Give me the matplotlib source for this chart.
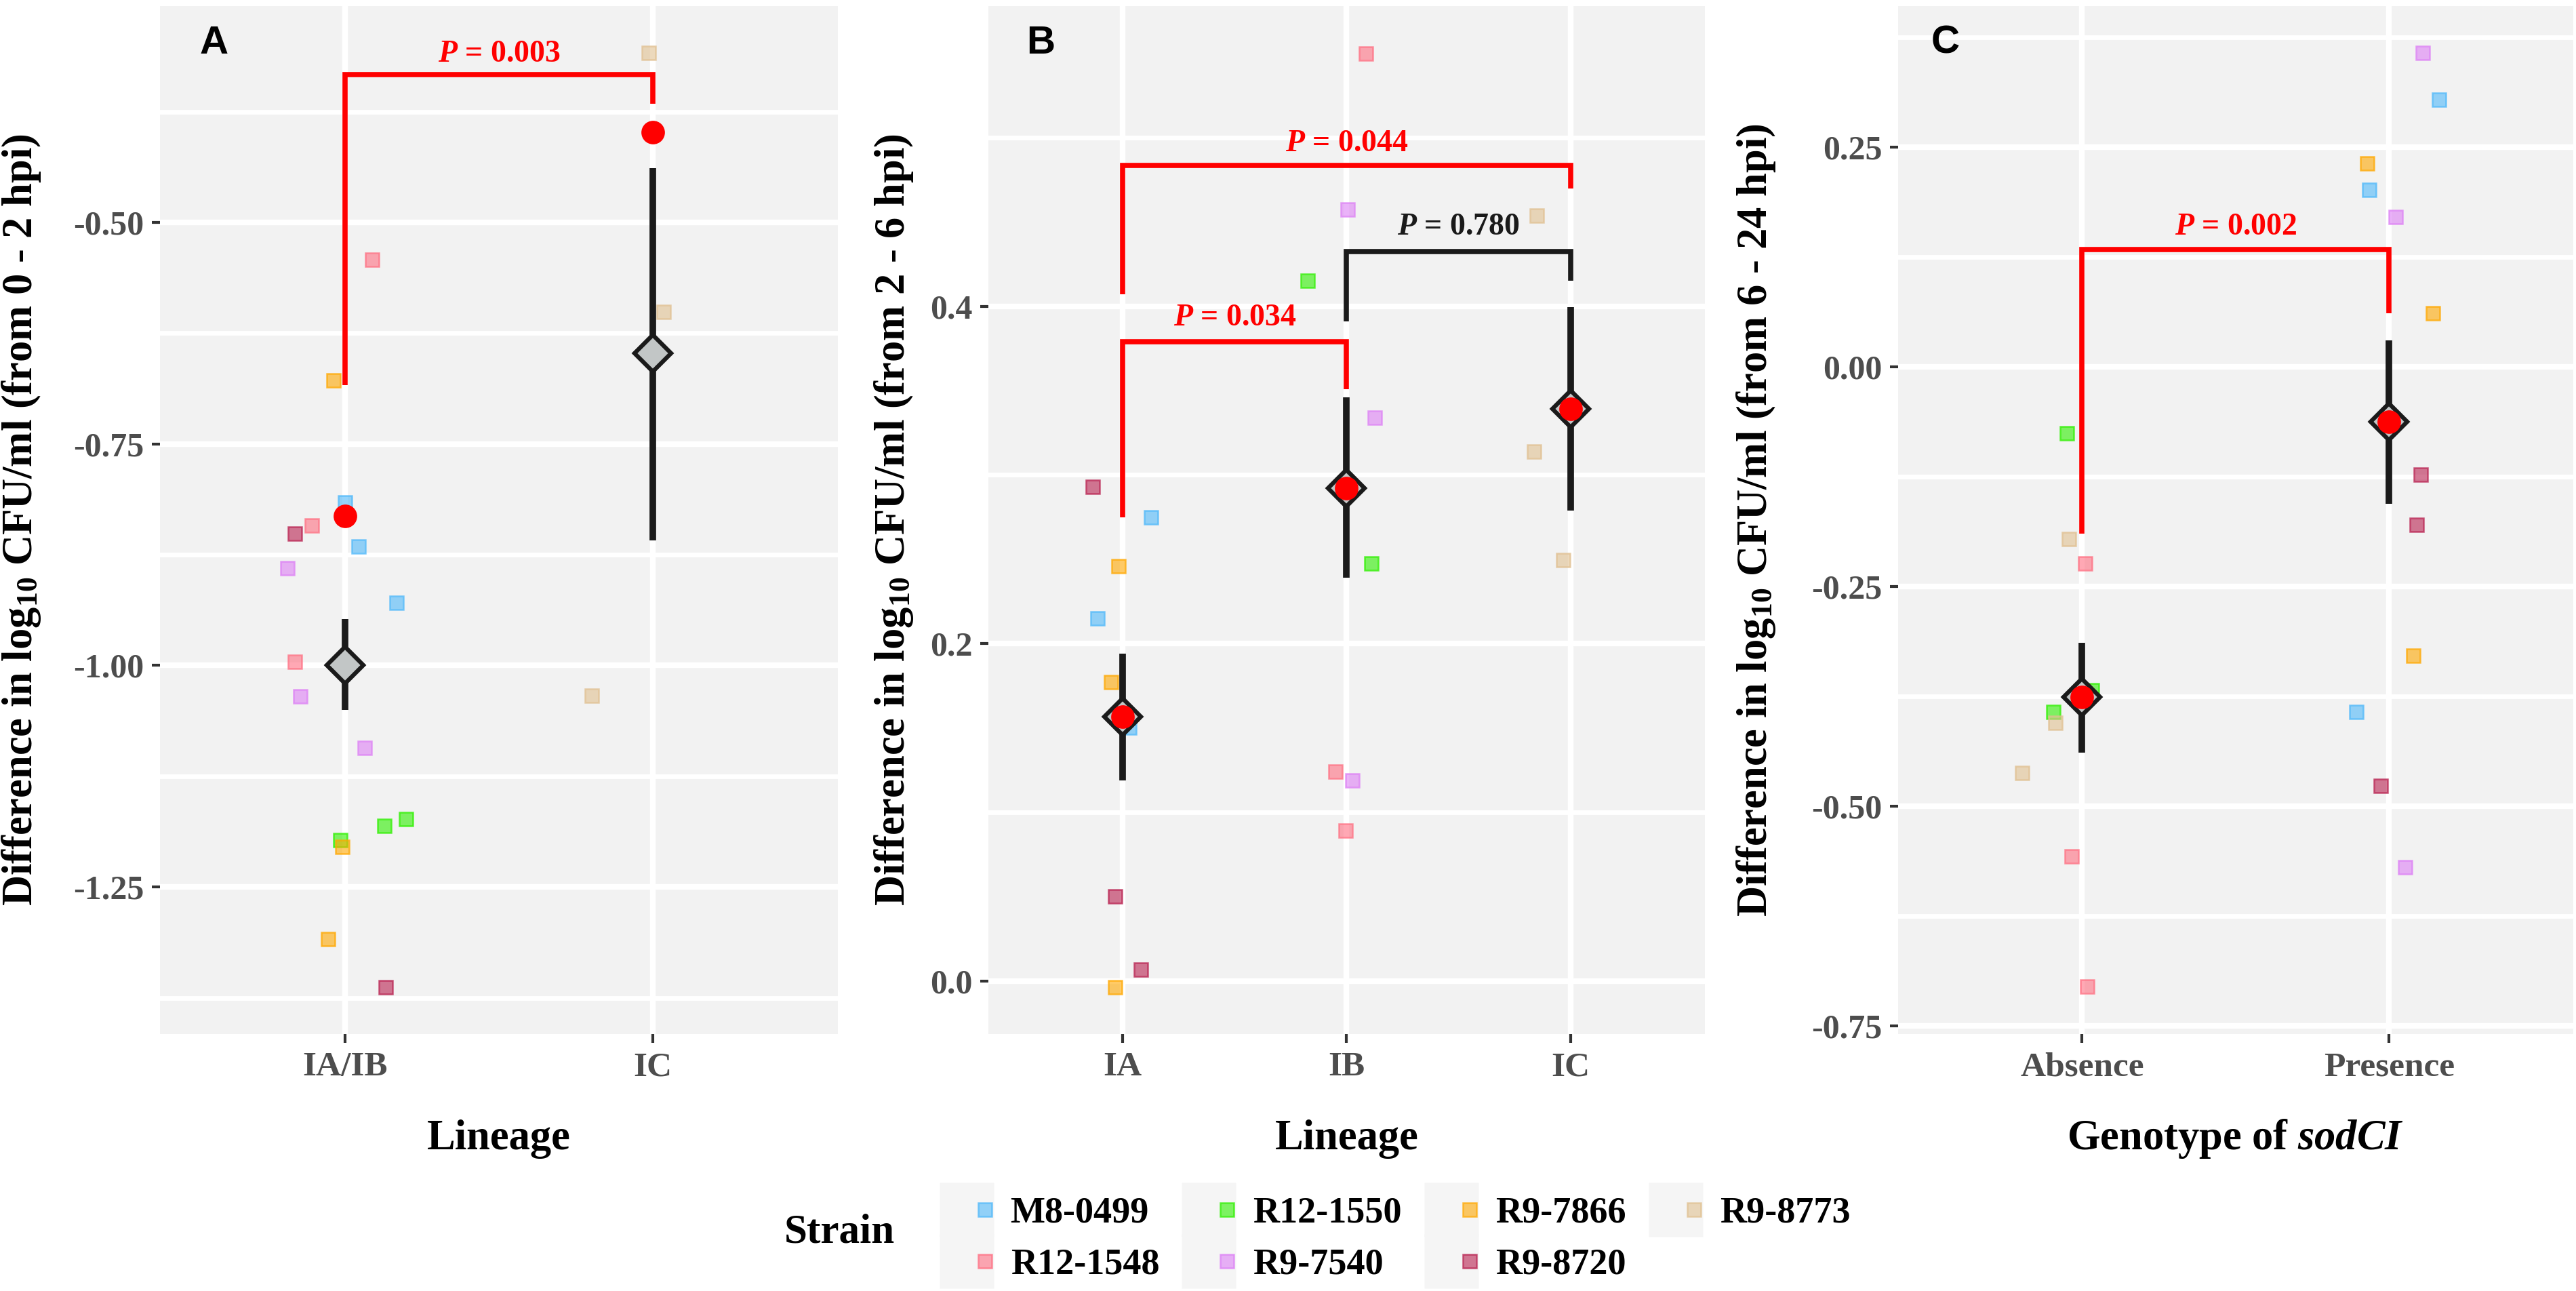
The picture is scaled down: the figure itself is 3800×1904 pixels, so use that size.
import matplotlib
matplotlib.use("Agg")
import matplotlib.pyplot as plt
from matplotlib.lines import Line2D
from matplotlib.legend_handler import HandlerTuple

plt.rcParams["font.family"] = ["Liberation Serif", "DejaVu Serif"]
plt.rcParams["font.weight"] = "bold"
plt.rcParams["axes.labelweight"] = "bold"
plt.rcParams["mathtext.fontset"] = "custom"
plt.rcParams["mathtext.rm"] = "Liberation Serif:bold"
plt.rcParams["mathtext.bf"] = "Liberation Serif:bold"
plt.rcParams["mathtext.it"] = "Liberation Serif:italic:bold"

# strains and their colours
strains = ["M8-0499", "R12-1548", "R12-1550", "R9-7540", "R9-7866", "R9-8720", "R9-8773"]
strain_colors = ["#4FB8FA", "#FF6F82", "#2EF000", "#DD80F5", "#FFA800", "#B8204F", "#E0C090"]

# ---- panel A: 0 - 2 hpi, lineage IA/IB vs IC
a_groups = ["IA/IB", "IC"]
a_strain = ["M8-0499"] * 3 + ["R12-1548"] * 3 + ["R12-1550"] * 3 + ["R9-7540"] * 3 \
    + ["R9-7866"] * 3 + ["R9-8720"] * 2 + ["R9-8773"] * 3
a_group = [0] * 17 + [1] * 3
a_value = [-0.816, -0.866, -0.929,
           -0.542, -0.842, -0.996,
           -1.173, -1.181, -1.197,
           -0.890, -1.035, -1.093,
           -0.678, -1.205, -1.309,
           -0.851, -1.363,
           -0.309, -0.601, -1.034]
a_jitter = [0.000, 0.044, 0.167,
            0.088, -0.107, -0.163,
            0.198, 0.128, -0.014,
            -0.186, -0.144, 0.065,
            -0.037, -0.009, -0.054,
            -0.163, 0.133,
            -0.014, 0.035, -0.198]
a_mean = [-1.000, -0.648]
a_low = [-1.050, -0.859]
a_high = [-0.948, -0.439]
a_dot = [-0.831, -0.398]
a_br_left = [0]
a_br_right = [1]
a_br_top = [-0.333]
a_br_left_end = [-0.684]
a_br_right_end = [-0.366]
a_br_text_y = [-0.310]
a_br_label = ["0.003"]
a_br_color = ["#FF0000"]
a_ylim = (-1.416, -0.256)
a_major = [-1.25, -1.00, -0.75, -0.50]
a_major_labels = ["-1.25", "-1.00", "-0.75", "-0.50"]
a_minor = [-1.375, -1.125, -0.875, -0.625, -0.375]

# ---- panel B: 2 - 6 hpi, lineage IA, IB, IC
b_groups = ["IA", "IB", "IC"]
b_strain = ["M8-0499"] * 3 + ["R9-7866"] * 3 + ["R9-8720"] * 3 \
    + ["R12-1548"] * 3 + ["R9-7540"] * 3 + ["R12-1550"] * 2 + ["R9-8773"] * 3
b_group = [0] * 9 + [1] * 8 + [2] * 3
b_value = [0.275, 0.215, 0.150,
           0.246, 0.177, -0.004,
           0.293, 0.050, 0.0065,
           0.550, 0.124, 0.089,
           0.4575, 0.334, 0.119,
           0.415, 0.2475,
           0.454, 0.314, 0.2497]
b_jitter = [0.126, -0.114, 0.029,
            -0.019, -0.053, -0.034,
            -0.133, -0.034, 0.082,
            0.087, -0.051, -0.005,
            0.005, 0.126, 0.027,
            -0.174, 0.111,
            -0.150, -0.162, -0.031]
b_mean = [0.1566, 0.292, 0.339]
b_low = [0.119, 0.239, 0.279]
b_high = [0.194, 0.346, 0.3995]
b_dot = [0.1566, 0.292, 0.339]
b_br_left = [0, 1, 0]
b_br_right = [2, 2, 1]
b_br_top = [0.4836, 0.4325, 0.379]
b_br_left_end = [0.407, 0.391, 0.275]
b_br_right_end = [0.470, 0.415, 0.351]
b_br_text_y = [0.4965, 0.447, 0.393]
b_br_label = ["0.044", "0.780", "0.034"]
b_br_color = ["#FF0000", "#1A1A1A", "#FF0000"]
b_ylim = (-0.0316, 0.578)
b_major = [0.0, 0.2, 0.4]
b_major_labels = ["0.0", "0.2", "0.4"]
b_minor = [0.1, 0.3, 0.5]

# ---- panel C: 6 - 24 hpi, sodCI absence vs presence
c_groups = ["Absence", "Presence"]
c_strain = ["R12-1550"] * 3 + ["R9-8773"] * 3 + ["R12-1548"] * 3 \
    + ["R9-7540"] * 3 + ["M8-0499"] * 3 + ["R9-7866"] * 3 + ["R9-8720"] * 3
c_group = [0] * 9 + [1] * 12
c_value = [-0.0757, -0.368, -0.393,
           -0.196, -0.405, -0.462,
           -0.224, -0.557, -0.705,
           0.357, 0.170, -0.569,
           0.304, 0.201, -0.393,
           0.231, 0.061, -0.329,
           -0.123, -0.180, -0.477]
c_jitter = [-0.049, 0.033, -0.093,
            -0.042, -0.088, -0.195,
            0.011, -0.035, 0.016,
            0.111, 0.021, 0.053,
            0.164, -0.065, -0.107,
            -0.072, 0.143, 0.079,
            0.104, 0.090, -0.026]
c_mean = [-0.376, -0.0627]
c_low = [-0.439, -0.156]
c_high = [-0.314, 0.0296]
c_dot = [-0.376, -0.0627]
c_br_left = [0]
c_br_right = [1]
c_br_top = [0.1333]
c_br_left_end = [-0.190]
c_br_right_end = [0.061]
c_br_text_y = [0.159]
c_br_label = ["0.002"]
c_br_color = ["#FF0000"]
c_ylim = (-0.759, 0.410)
c_major = [-0.75, -0.50, -0.25, 0.00, 0.25]
c_major_labels = ["-0.75", "-0.50", "-0.25", "0.00", "0.25"]
c_minor = [-0.625, -0.375, -0.125, 0.125, 0.375]

color_of = dict(zip(strains, strain_colors))


def draw_panel(ax, groups, pt_strain, pt_group, pt_value, pt_jitter, means, low, high, dots,
               br_left, br_right, br_top, br_left_end, br_right_end, br_text_y, br_label, br_color,
               ylim, major, major_labels, minor, diamond_face):
    n = len(groups)
    xs = list(range(1, n + 1))
    ax.set_facecolor("#F2F2F2")
    for s in ax.spines.values():
        s.set_visible(False)

    # grid
    for y in minor:
        ax.axhline(y, color="white", lw=5, zorder=0)
    for y in major:
        ax.axhline(y, color="white", lw=6, zorder=0)
    for x in xs:
        ax.axvline(x, color="white", lw=6, zorder=0)

    # significance brackets
    for l, r, top, le, re, col in zip(br_left, br_right, br_top, br_left_end, br_right_end, br_color):
        x1, x2 = xs[l], xs[r]
        ax.plot([x1, x1, x2, x2], [le, top, top, re], color=col, lw=5.5,
                solid_joinstyle="miter", solid_capstyle="butt", zorder=2)
    for l, r, ty, lab, col in zip(br_left, br_right, br_text_y, br_label, br_color):
        ax.text((xs[l] + xs[r]) / 2, ty, "$P$ = " + lab, color=col, fontsize=33,
                ha="center", va="center", zorder=3)

    # individual strain replicates
    for st, g, v, j in zip(pt_strain, pt_group, pt_value, pt_jitter):
        c = color_of[st]
        ax.plot(xs[g] + j, v, marker="s", ms=14.5, mfc=matplotlib.colors.to_rgba(c, 0.6),
                mec=matplotlib.colors.to_rgba(c, 0.75), mew=1.8, ls="none", zorder=3)

    # mean +/- error
    for x, m, lo, hi in zip(xs, means, low, high):
        ax.plot([x, x], [lo, hi], color="#1A1A1A", lw=7, solid_capstyle="butt", zorder=4)
        ax.plot(x, m, marker="D", ms=27, mfc=diamond_face, mec="#1A1A1A", mew=4.5,
                ls="none", zorder=5)
    ax.plot(xs, dots, marker="o", ms=25, color="#FF0000", mec="none", ls="none", zorder=6)

    ax.set_xlim(0.4, n + 0.6)
    ax.set_ylim(*ylim)
    ax.set_xticks(xs)
    ax.set_xticklabels(groups)
    ax.set_yticks(major)
    ax.set_yticklabels(major_labels)
    ax.tick_params(axis="both", colors="#333333", length=9, width=3)
    ax.tick_params(axis="x", labelsize=37, labelcolor="#4D4D4D", pad=10)
    ax.tick_params(axis="y", labelsize=36, labelcolor="#4D4D4D", pad=8)


fig = plt.figure(figsize=(38, 19.04), dpi=100)
ax_a = fig.add_axes([0.0621, 0.199, 0.2631, 0.7962])
ax_b = fig.add_axes([0.3837, 0.199, 0.2781, 0.7962])
ax_c = fig.add_axes([0.7368, 0.199, 0.2621, 0.7962])

draw_panel(ax_a, a_groups, a_strain, a_group, a_value, a_jitter, a_mean, a_low, a_high, a_dot,
           a_br_left, a_br_right, a_br_top, a_br_left_end, a_br_right_end, a_br_text_y,
           a_br_label, a_br_color, a_ylim, a_major, a_major_labels, a_minor, "#C2C6C6")
draw_panel(ax_b, b_groups, b_strain, b_group, b_value, b_jitter, b_mean, b_low, b_high, b_dot,
           b_br_left, b_br_right, b_br_top, b_br_left_end, b_br_right_end, b_br_text_y,
           b_br_label, b_br_color, b_ylim, b_major, b_major_labels, b_minor, "#C2C6C6")
draw_panel(ax_c, c_groups, c_strain, c_group, c_value, c_jitter, c_mean, c_low, c_high, c_dot,
           c_br_left, c_br_right, c_br_top, c_br_left_end, c_br_right_end, c_br_text_y,
           c_br_label, c_br_color, c_ylim, c_major, c_major_labels, c_minor, "#C2C6C6")

ylabels = ["Difference in log$_{10}$ CFU/ml (from 0 - 2 hpi)",
           "Difference in log$_{10}$ CFU/ml (from 2 - 6 hpi)",
           "Difference in log$_{10}$ CFU/ml (from 6 - 24 hpi)"]
xlabels = ["Lineage", "Lineage", "Genotype of $sodCI$"]
letters = ["A", "B", "C"]
ylabel_x = [-0.205, -0.1325, -0.21]
letter_x = [0.080, 0.073, 0.070]

for ax, yl, xl, let, lx, px in zip([ax_a, ax_b, ax_c], ylabels, xlabels, letters, ylabel_x, letter_x):
    ax.set_ylabel(yl, fontsize=45, color="black", fontweight="bold")
    ax.yaxis.set_label_coords(lx, 0.5)
    ax.yaxis.label.set_verticalalignment("center")
    ax.set_xlabel(xl, fontsize=45, color="black", fontweight="bold")
    ax.xaxis.set_label_coords(0.5, -0.102)
    ax.xaxis.label.set_verticalalignment("center")
    ax.text(px, 0.964, let, transform=ax.transAxes, fontsize=42, fontweight="bold",
            family=["Liberation Sans", "DejaVu Sans"], ha="center", va="center", zorder=7)

# legend: small coloured square on the light grey key background
handles = []
for c in strain_colors:
    key_bg = Line2D([], [], marker="s", ls="none", ms=58, mfc="#F5F5F5", mec="none")
    key = Line2D([], [], marker="s", ls="none", ms=14,
                 mfc=matplotlib.colors.to_rgba(c, 0.6), mec=matplotlib.colors.to_rgba(c, 0.75),
                 mew=1.8)
    handles.append((key_bg, key))
fig.legend(handles, strains, ncol=4, loc="center left", bbox_to_anchor=(0.3716, 0.040),
           frameon=False, fontsize=39, handlelength=1.0, handletextpad=0.45,
           columnspacing=1.1, labelspacing=0.48, borderpad=0, borderaxespad=0,
           handler_map={tuple: HandlerTuple(ndivide=None, pad=0)})
fig.text(0.3258, 0.0452, "Strain", fontsize=44, ha="center", va="center")

fig.savefig("out.png", dpi=100)
